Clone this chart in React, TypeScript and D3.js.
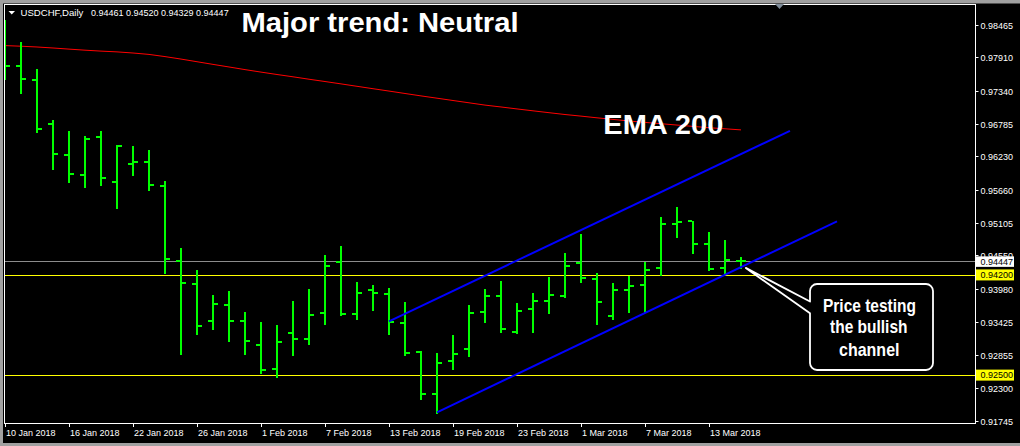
import React from "react";
import * as d3 from "d3";

// ---- data ----
const tradingDays = [
  "2018-01-10","2018-01-11","2018-01-12","2018-01-15","2018-01-16","2018-01-17","2018-01-18","2018-01-19",
  "2018-01-22","2018-01-23","2018-01-24","2018-01-25","2018-01-26","2018-01-29","2018-01-30","2018-01-31",
  "2018-02-01","2018-02-02","2018-02-05","2018-02-06","2018-02-07","2018-02-08","2018-02-09","2018-02-12",
  "2018-02-13","2018-02-14","2018-02-15","2018-02-16","2018-02-19","2018-02-20","2018-02-21","2018-02-22",
  "2018-02-23","2018-02-26","2018-02-27","2018-02-28","2018-03-01","2018-03-02","2018-03-05","2018-03-06",
  "2018-03-07","2018-03-08","2018-03-09","2018-03-12","2018-03-13","2018-03-14","2018-03-15"
];

const opens = [0.97871,0.97769,0.97532,0.96785,0.96259,0.95920,0.96564,0.95801,0.96106,0.96140,0.95733,0.94460,
  0.94070,0.93442,0.93714,0.93442,0.93035,0.92628,0.93238,0.93137,0.93578,0.94443,0.93561,0.93968,0.93900,0.93408,
  0.92916,0.92203,0.92763,0.92967,0.93595,0.93866,0.93256,0.93646,0.93782,0.93866,0.94426,0.94155,0.93527,0.93968,
  0.94053,0.94342,0.95088,0.95139,0.94749,0.94342,0.94461];
const highs = [0.98550,0.98177,0.97718,0.96853,0.96666,0.96581,0.96666,0.96429,0.96412,0.96344,0.95818,0.94681,
  0.94308,0.93883,0.93951,0.93595,0.93425,0.93374,0.93782,0.93985,0.94562,0.94715,0.94104,0.94053,0.94002,0.93765,
  0.92933,0.92899,0.93205,0.93714,0.93985,0.94121,0.93748,0.93917,0.94189,0.94596,0.94918,0.94257,0.94087,0.94206,
  0.94443,0.95207,0.95377,0.95139,0.94952,0.94817,0.94520];
const lows = [0.97549,0.97311,0.96649,0.96021,0.95801,0.95716,0.95750,0.95360,0.95920,0.95665,0.94257,0.92882,
  0.93222,0.93306,0.93103,0.92882,0.92560,0.92492,0.92865,0.93052,0.93391,0.93544,0.93476,0.93629,0.93222,0.92865,
  0.92119,0.91881,0.92628,0.92848,0.93425,0.93256,0.93238,0.93256,0.93578,0.93849,0.94104,0.93391,0.93476,0.93595,
  0.93595,0.94223,0.94868,0.94596,0.94308,0.94257,0.94329];
const closes = [0.97769,0.97549,0.96700,0.96276,0.95937,0.96531,0.95869,0.96412,0.96140,0.95750,0.94494,0.94087,
  0.93357,0.93731,0.93442,0.93103,0.92611,0.93086,0.93137,0.93544,0.94375,0.93561,0.93917,0.93917,0.93425,0.92899,
  0.92203,0.92729,0.92882,0.93578,0.93866,0.93306,0.93612,0.93782,0.93883,0.94375,0.94172,0.93765,0.93968,0.94036,
  0.94308,0.95088,0.95122,0.94749,0.94325,0.94477,0.94447];
const ema200 = [0.98109,0.98098,0.98085,0.98068,0.98049,0.98031,0.98015,0.98002,0.97983,0.97959,0.97922,0.97880,
  0.97835,0.97790,0.97746,0.97701,0.97659,0.97618,0.97579,0.97538,0.97499,0.97459,0.97418,0.97377,0.97337,0.97296,
  0.97255,0.97216,0.97177,0.97138,0.97099,0.97067,0.97034,0.97002,0.96970,0.96939,0.96912,0.96883,0.96856,0.96829,
  0.96805,0.96783,0.96760,0.96738,0.96715,0.96697,0.96678];

const yTickValues = [0.98465,0.97910,0.97340,0.96785,0.96230,0.95660,0.95105,0.94550,0.93980,0.93425,0.92855,0.92300,0.91745];
const xTickEvery = 4;
const headerSymbol = "USDCHF,Daily";
const headerValues = [0.94461, 0.94520, 0.94329, 0.94447];
const bidPrice = 0.94447;
const levelLines = [0.942, 0.925];
const channelUpperBars = [24, 49.06];
const channelUpperPrices = [0.9343, 0.96663];
const channelLowerBars = [27, 52];
const channelLowerPrices = [0.91886, 0.95127];
const calloutTipBar = 46.3;
const calloutTipPrice = 0.94336;
const titleText = "Major trend: Neutral";
const emaLabel = "EMA 200";
const calloutLines = ["Price testing", "the bullish", "channel"];

const FONT = "'Liberation Sans', Arial, sans-serif";

export default function App() {
  const W = 1020, H = 446;
  const n = tradingDays.length;
  const x = d3.scaleLinear().domain([0, n - 1]).range([5, 5 + 16 * (n - 1)]);
  const y = d3.scaleLinear().domain([0.91745, 0.98465]).range([420.6, 24.6]);
  const plotL = 4.5, plotT = 4.5, plotR = 975.5, plotB = 423.5;

  const parse = d3.timeParse("%Y-%m-%d");
  const fmt = d3.timeFormat("%-d %b %Y");
  const fmtP = d3.format(".5f");

  const emaLine = d3.line<number>().x((_, i) => x(i)).y((d) => y(d));
  const chanLine = (bars: number[], prices: number[]) =>
    d3.line<number>().x((b) => x(b)).y((_, i) => y(prices[i]))(bars) || "";

  const tipX = x(calloutTipBar), tipY = y(calloutTipPrice);
  const bx0 = 810, bx1 = 933, by0 = 284, by1 = 370, r = 7;
  const calloutPath = `M ${bx0 + r} ${by0} H ${bx1 - r} A ${r} ${r} 0 0 1 ${bx1} ${by0 + r} V ${by1 - r} A ${r} ${r} 0 0 1 ${bx1 - r} ${by1} H ${bx0 + r} A ${r} ${r} 0 0 1 ${bx0} ${by1 - r} V 313.3 L ${tipX} ${tipY} L ${bx0} 301.5 V ${by0 + r} A ${r} ${r} 0 0 1 ${bx0 + r} ${by0} Z`;
  const calloutLayout = [
    { x: 823, y: 311.7, len: 93 },
    { x: 830, y: 333.3, len: 77.5 },
    { x: 839, y: 356, len: 60.5 },
  ];

  return (
    <svg width={W} height={H} style={{ position: "fixed", left: 0, top: 0, display: "block" }}>
      <rect x={0} y={0} width={W} height={H} fill="#000" />
      {/* window frame */}
      <rect x={0} y={0} width={W} height={3.5} fill="#a0a0a0" />
      <rect x={0} y={0} width={3} height={H} fill="#a0a0a0" />
      <rect x={0} y={443} width={W} height={3} fill="#a0a0a0" />

      <defs>
        <clipPath id="plotClip">
          <rect x={plotL + 0.5} y={plotT + 0.5} width={plotR - plotL - 1} height={plotB - plotT - 1} />
        </clipPath>
      </defs>

      <g clipPath="url(#plotClip)">
        {/* horizontal levels */}
        <line x1={plotL} x2={plotR} y1={Math.round(y(bidPrice)) + 0.5} y2={Math.round(y(bidPrice)) + 0.5} stroke="#8c8c8c" strokeWidth={1} />
        {levelLines.map((v) => (
          <line key={v} x1={plotL} x2={plotR} y1={Math.round(y(v)) - 0.5} y2={Math.round(y(v)) - 0.5} stroke="#ffff00" strokeWidth={1} />
        ))}
        {/* EMA 200 */}
        <path d={emaLine(ema200) || ""} fill="none" stroke="#ff0000" strokeWidth={1} />
        {/* OHLC bars */}
        <g fill="#00ff00" shapeRendering="crispEdges">
          {opens.map((o, i) => {
            const cx = Math.round(x(i));
            const yh = Math.round(y(highs[i]));
            const yl = Math.round(y(lows[i]));
            const yo = Math.round(y(o));
            const yc = Math.round(y(closes[i]));
            return (
              <g key={i}>
                <rect x={cx - 1} y={yh} width={2} height={Math.max(2, yl - yh + 1)} />
                <rect x={cx - 5} y={yo - 1} width={4} height={2} />
                <rect x={cx + 1} y={yc - 1} width={4} height={2} />
              </g>
            );
          })}
        </g>
        {/* channel */}
        <path d={chanLine(channelUpperBars, channelUpperPrices)} stroke="#0000ff" strokeWidth={2} fill="none" />
        <path d={chanLine(channelLowerBars, channelLowerPrices)} stroke="#0000ff" strokeWidth={2} fill="none" />
      </g>

      {/* plot border */}
      <rect x={plotL} y={plotT} width={plotR - plotL} height={plotB - plotT} fill="none" stroke="#fff" strokeWidth={1} />
      {/* shift marker */}
      <path d="M 775 4 L 784 4 L 779.5 9 Z" fill="#7f8c99" />

      {/* header */}
      <path d="M 8.5 11 L 15 11 L 11.75 14.5 Z" fill="#fff" />
      <text x={20.5} y={16} fill="#fff" fontFamily={FONT} fontSize={9.6}>{headerSymbol}</text>
      <text x={91} y={16} fill="#fff" fontFamily={FONT} fontSize={9}>{headerValues.map((v) => fmtP(v)).join(" ")}</text>

      {/* right axis */}
      <g fontFamily={FONT} fontSize={9} fill="#fff">
        {yTickValues.map((v) => {
          const yy = Math.round(y(v)) + 0.5;
          return (
            <g key={v}>
              <line x1={plotR} x2={plotR + 3} y1={yy} y2={yy} stroke="#fff" strokeWidth={1} />
              <text x={980.5} y={yy + 3.3}>{fmtP(v)}</text>
            </g>
          );
        })}
      </g>
      {/* price labels */}
      <g fontFamily={FONT} fontSize={9}>
        <rect x={976} y={y(bidPrice) - 5} width={38} height={10.5} fill="#fff" />
        <text x={980.5} y={y(bidPrice) + 3.3} fill="#000">{fmtP(bidPrice)}</text>
        {levelLines.map((v) => (
          <g key={v}>
            <rect x={976} y={y(v) - 6.5} width={38} height={11} fill="#ffff00" />
            <text x={980.5} y={y(v) + 2.3} fill="#000">{fmtP(v)}</text>
          </g>
        ))}
      </g>

      {/* bottom axis */}
      <g fontFamily={FONT} fontSize={9} fill="#fff">
        {tradingDays.map((d, i) => {
          if (i % xTickEvery !== 0) return null;
          const xx = Math.round(x(i)) + 0.5;
          return (
            <g key={d}>
              <line x1={xx} x2={xx} y1={plotB} y2={plotB + 3.5} stroke="#fff" strokeWidth={1} />
              <text x={xx + 0.5} y={435.7}>{fmt(parse(d) as Date)}</text>
            </g>
          );
        })}
      </g>

      {/* annotations */}
      <text x={241.5} y={31.7} fill="#fff" fontFamily={FONT} fontWeight="bold" fontSize={28.5} textLength={277} lengthAdjust="spacingAndGlyphs">{titleText}</text>
      <text x={603.3} y={134} fill="#fff" fontFamily={FONT} fontWeight="bold" fontSize={28} textLength={120} lengthAdjust="spacingAndGlyphs">{emaLabel}</text>

      <path d={calloutPath} fill="#000" stroke="#fff" strokeWidth={1.8} strokeLinejoin="round" />
      <g fill="#fff" fontFamily={"'Liberation Sans Narrow', " + FONT} fontWeight="bold" fontSize={19}>
        {calloutLines.map((t, i) => (
          <text key={t} x={calloutLayout[i].x} y={calloutLayout[i].y} textLength={calloutLayout[i].len} lengthAdjust="spacingAndGlyphs">{t}</text>
        ))}
      </g>
    </svg>
  );
}
